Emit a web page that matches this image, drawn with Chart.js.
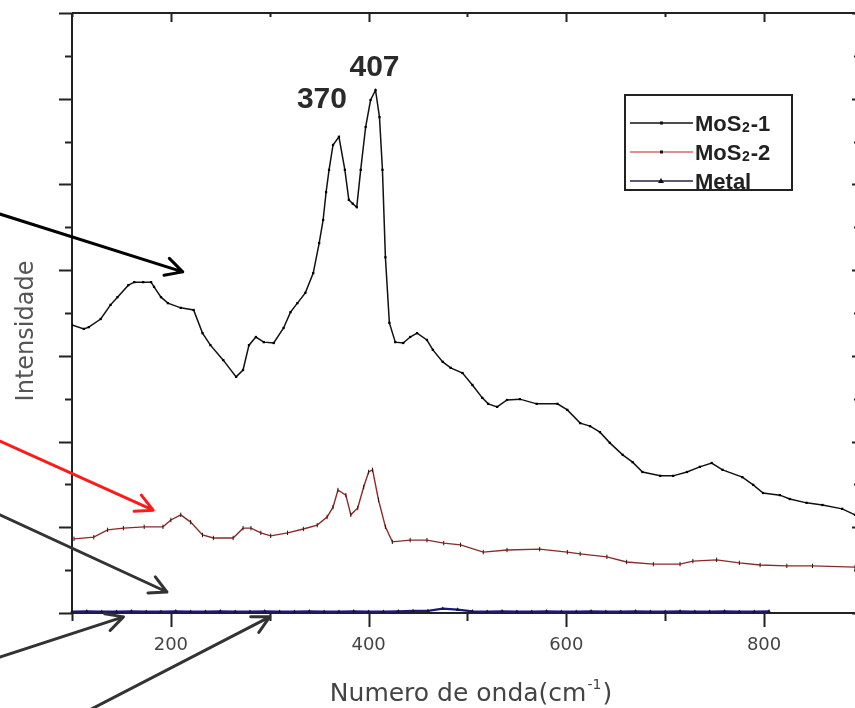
<!DOCTYPE html>
<html>
<head>
<meta charset="utf-8">
<script src="https://cdn.jsdelivr.net/npm/chart.js@4.4.1/dist/chart.umd.min.js"></script>
<style>
  html, body { margin: 0; padding: 0; background: #ffffff; overflow: hidden; }
  #wrap { position: absolute; left: 0; top: 0; width: 870px; height: 708px; }
</style>
</head>
<body>
<div id="wrap"><canvas id="c" width="870" height="708"></canvas></div>
<script>
// Raman spectra: wavenumber (cm-1) vs. intensity (arbitrary units)
const mos1Wavenumber = [100,112,117,129,139,146,157,163,172,180,183,190,197,210,223,232,240,253,266,273,279,286,294,304,314,321,328,336,344,350,354,357,360,364,370,376,380,384,388,392,397,402,407,411,414,417,421,427,435,442,449,459,465,475,483,495,505,515,521,530,540,553,570,591,601,614,624,634,644,657,667,677,695,708,722,735,747,758,778,789,799,816,826,843,859,879,892];
const mos1Intensity  = [6.72,6.63,6.67,6.86,7.19,7.37,7.65,7.72,7.72,7.72,7.61,7.37,7.23,7.12,7.07,6.53,6.25,5.90,5.51,5.67,6.25,6.44,6.32,6.30,6.65,7.02,7.23,7.47,7.93,8.63,9.17,9.82,10.34,10.92,11.11,10.34,9.64,9.55,9.47,10.34,11.34,11.97,12.20,11.57,10.34,8.30,6.77,6.32,6.30,6.44,6.53,6.37,6.14,5.86,5.72,5.60,5.32,5.02,4.88,4.81,4.97,4.99,4.88,4.88,4.74,4.43,4.36,4.22,3.97,3.69,3.52,3.29,3.20,3.20,3.29,3.41,3.50,3.34,3.17,2.99,2.80,2.75,2.66,2.57,2.52,2.43,2.29];

const mos2Wavenumber = [102,122,136,152,173,192,200,210,220,232,243,263,273,281,291,301,318,334,348,358,364,369,377,382,389,395,400,404,410,417,424,442,459,476,493,516,540,573,601,614,641,661,688,715,728,752,775,796,823,849,892];
const mos2Intensity  = [1.73,1.77,1.94,1.98,2.01,2.01,2.17,2.29,2.12,1.82,1.75,1.75,1.98,1.98,1.87,1.80,1.87,1.96,2.05,2.24,2.47,2.87,2.75,2.29,2.45,2.94,3.29,3.34,2.64,2.01,1.66,1.70,1.70,1.63,1.59,1.42,1.47,1.49,1.42,1.38,1.31,1.19,1.14,1.14,1.21,1.24,1.17,1.12,1.10,1.10,1.07];

const metalWavenumber = [100,115,130,145,160,175,190,205,220,235,250,265,280,295,310,325,340,355,370,385,400,415,430,445,460,475,490,505,520,535,550,565,580,595,610,625,640,655,670,685,700,715,730,745,760,775,790,805];
const metalIntensity  = [0.03,0.04,0.03,0.03,0.04,0.03,0.03,0.04,0.03,0.03,0.04,0.03,0.03,0.04,0.03,0.03,0.04,0.03,0.03,0.04,0.03,0.03,0.04,0.05,0.05,0.10,0.08,0.04,0.03,0.04,0.03,0.03,0.04,0.03,0.03,0.04,0.03,0.03,0.04,0.03,0.03,0.04,0.03,0.03,0.04,0.03,0.03,0.04];

const seriesLabels = ['MoS₂-1', 'MoS₂-2', 'Metal'];

// axis ticks
const xTickValues = [100,200,300,400,500,600,700,800];
const xTickLabels = [200,400,600,800];
const yTickValues = [0,1,2,3,4,5,6,7,8,9,10,11,12,13,14];

// peak labels (wavenumber of the MoS2-1 maxima)
const peakLabels = [370, 407];

const toPoints = (xs, ys) => xs.map((x, i) => ({ x, y: ys[i] }));

// frame with outward/inward tick marks drawn from the scales
const framePlugin = {
  id: 'frame',
  beforeDatasetsDraw(chart) {
    const { ctx, chartArea: a, scales: { x, y } } = chart;
    ctx.save();
    ctx.strokeStyle = '#222';
    ctx.lineWidth = 2;
    ctx.beginPath();
    ctx.moveTo(a.left, a.top); ctx.lineTo(a.right, a.top);
    ctx.moveTo(a.left, a.top); ctx.lineTo(a.left, a.bottom);
    ctx.moveTo(a.left, a.bottom); ctx.lineTo(a.right, a.bottom);
    ctx.moveTo(a.right, a.top); ctx.lineTo(a.right, a.bottom);
    xTickValues.forEach(v => {
      const px = Math.round(x.getPixelForValue(v)) + 0.5;
      const major = xTickLabels.includes(v);
      ctx.moveTo(px, a.bottom); ctx.lineTo(px, a.bottom + (major ? 14 : 8));
      ctx.moveTo(px, a.top); ctx.lineTo(px, a.top + (major ? 9 : 4));
    });
    yTickValues.forEach(v => {
      const py = Math.round(y.getPixelForValue(v)) + 0.5;
      const major = v % 2 === 0;
      ctx.moveTo(a.left, py); ctx.lineTo(a.left - (major ? 13 : 7), py);
      ctx.moveTo(a.right, py); ctx.lineTo(a.right - (major ? 6 : 4), py);
    });
    ctx.stroke();
    ctx.restore();
  }
};

// pointer arrows, given in data coordinates
const arrows = [
  { from: [27, 9.31], to: [212, 7.96], color: '#000000' },
  { from: [27, 4.01], to: [182, 2.40], color: '#ff1a1a' },
  { from: [27, 2.29], to: [196, 0.49], color: '#333333' },
  { from: [27, -1.03], to: [152, -0.09], color: '#333333' },
  { from: [118, -2.26], to: [300, -0.09], color: '#333333' }
];

function drawMixedLabel(ctx, text, x, yBase, size) {
  // renders "₂" as a small subscript digit
  const parts = text.split('₂');
  let cx = x;
  ctx.textAlign = 'left';
  ctx.textBaseline = 'alphabetic';
  parts.forEach((p, i) => {
    ctx.font = 'bold ' + size + 'px "Liberation Sans", Arial, sans-serif';
    ctx.fillText(p, cx, yBase);
    cx += ctx.measureText(p).width;
    if (i < parts.length - 1) {
      ctx.font = 'bold ' + Math.round(size * 0.62) + 'px "Liberation Sans", Arial, sans-serif';
      ctx.fillText('2', cx + 0.5, yBase + 1);
      cx += ctx.measureText('2').width + 1.5;
    }
  });
}

const overlayPlugin = {
  id: 'overlay',
  afterDraw(chart) {
    const { ctx, chartArea: a, scales: { x, y } } = chart;
    ctx.save();

    // axis titles
    ctx.fillStyle = '#555';
    ctx.font = '24px "DejaVu Sans", sans-serif';
    ctx.textAlign = 'center';
    ctx.textBaseline = 'middle';
    ctx.save();
    ctx.translate(27, (a.top + a.bottom) / 2 + 18);
    ctx.rotate(-Math.PI / 2);
    ctx.fillText('Intensidade', 0, 0);
    ctx.restore();

    ctx.fillStyle = '#444';
    ctx.font = '25px "DejaVu Sans", sans-serif';
    const main = 'Numero de onda(cm';
    const sup = '-1';
    ctx.textAlign = 'left';
    ctx.textBaseline = 'alphabetic';
    const wMain = ctx.measureText(main).width;
    ctx.font = '14px "DejaVu Sans", sans-serif';
    const wSup = ctx.measureText(sup).width;
    ctx.font = '25px "DejaVu Sans", sans-serif';
    const wClose = ctx.measureText(')').width;
    const startX = 470 - (wMain + wSup + wClose) / 2;
    const base = 701;
    ctx.fillText(main, startX, base);
    ctx.font = '14px "DejaVu Sans", sans-serif';
    ctx.fillText(sup, startX + wMain + 1, base - 12);
    ctx.font = '25px "DejaVu Sans", sans-serif';
    ctx.fillText(')', startX + wMain + wSup + 2, base);

    // peak labels anchored to the MoS2-1 maxima
    ctx.fillStyle = '#2a2a2a';
    ctx.font = 'bold 30px "Liberation Sans", Arial, sans-serif';
    ctx.textAlign = 'center';
    peakLabels.forEach((p, i) => {
      const idx = mos1Wavenumber.indexOf(p);
      const px = x.getPixelForValue(p);
      const py = y.getPixelForValue(mos1Intensity[idx]);
      if (i === 0) ctx.fillText(String(p), px - 17, py - 29);
      else ctx.fillText(String(p), px - 1, py - 14);
    });

    // legend
    const box = { left: 625, top: 95, right: 792, bottom: 190 };
    ctx.fillStyle = '#ffffff';
    ctx.fillRect(box.left, box.top, box.right - box.left, box.bottom - box.top);
    ctx.strokeStyle = '#222';
    ctx.lineWidth = 2;
    ctx.strokeRect(box.left, box.top, box.right - box.left, box.bottom - box.top);
    const legendLineColors = ['#111111', '#d46a6a', '#222244'];
    chart.data.datasets.forEach((ds, i) => {
      const cy = 123 + i * 29;
      ctx.strokeStyle = legendLineColors[i];
      ctx.lineWidth = 1.3;
      ctx.beginPath();
      ctx.moveTo(630, cy); ctx.lineTo(693, cy);
      ctx.stroke();
      ctx.fillStyle = '#111';
      if (i === 2) {
        ctx.beginPath();
        ctx.moveTo(661, cy - 3); ctx.lineTo(664, cy + 2); ctx.lineTo(658, cy + 2); ctx.closePath();
        ctx.fill();
      } else {
        ctx.fillRect(660, cy - 1.5, 3, 3);
      }
      ctx.fillStyle = '#222';
      drawMixedLabel(ctx, ds.label, 695, cy + 8, 22);
    });

    // arrows
    arrows.forEach(ar => {
      const x1 = x.getPixelForValue(ar.from[0]), y1 = y.getPixelForValue(ar.from[1]);
      const x2 = x.getPixelForValue(ar.to[0]), y2 = y.getPixelForValue(ar.to[1]);
      const ang = Math.atan2(y2 - y1, x2 - x1);
      const len = 19, spread = Math.PI / 6.5;
      ctx.strokeStyle = ar.color;
      ctx.lineWidth = 3;
      ctx.lineCap = 'round';
      ctx.lineJoin = 'round';
      ctx.beginPath();
      ctx.moveTo(x1, y1); ctx.lineTo(x2, y2);
      ctx.moveTo(x2 - len * Math.cos(ang - spread), y2 - len * Math.sin(ang - spread));
      ctx.lineTo(x2, y2);
      ctx.lineTo(x2 - len * Math.cos(ang + spread), y2 - len * Math.sin(ang + spread));
      ctx.stroke();
    });

    ctx.restore();
  }
};

new Chart(document.getElementById('c'), {
  type: 'line',
  data: {
    datasets: [
      {
        label: seriesLabels[0],
        data: toPoints(mos1Wavenumber, mos1Intensity),
        borderColor: '#111111',
        borderWidth: 1.5,
        pointStyle: 'rect',
        pointRadius: 1.6,
        pointBackgroundColor: '#000',
        pointBorderWidth: 0,
        tension: 0
      },
      {
        label: seriesLabels[1],
        data: toPoints(mos2Wavenumber, mos2Intensity),
        borderColor: '#8a2a2a',
        borderWidth: 1.4,
        pointStyle: 'line',
        rotation: 90,
        pointRadius: 2.2,
        pointBorderColor: '#3a1010',
        pointBorderWidth: 1,
        tension: 0
      },
      {
        label: seriesLabels[2],
        data: toPoints(metalWavenumber, metalIntensity),
        borderColor: '#1a1a7a',
        borderWidth: 2.2,
        pointStyle: 'triangle',
        pointRadius: 2.2,
        pointBackgroundColor: '#151530',
        pointBorderWidth: 0,
        clip: false,
        tension: 0
      }
    ]
  },
  options: {
    responsive: false,
    animation: false,
    events: [],
    layout: { padding: { left: 72, top: 13, right: 12, bottom: 0 } },
    plugins: { legend: { display: false }, tooltip: { enabled: false } },
    scales: {
      x: {
        type: 'linear',
        min: 100,
        max: 895,
        grid: { display: false, drawTicks: false },
        border: { display: false },
        afterFit: s => { s.height = 95; },
        afterBuildTicks: s => { s.ticks = xTickValues.map(v => ({ value: v })); },
        ticks: {
          autoSkip: false,
          maxRotation: 0,
          padding: 22,
          color: '#444',
          font: { family: 'DejaVu Sans', size: 18 },
          callback: v => (xTickLabels.includes(v) ? String(v) : '')
        }
      },
      y: { display: false, min: 0, max: 14 }
    }
  },
  plugins: [framePlugin, overlayPlugin]
});
</script>
</body>
</html>
